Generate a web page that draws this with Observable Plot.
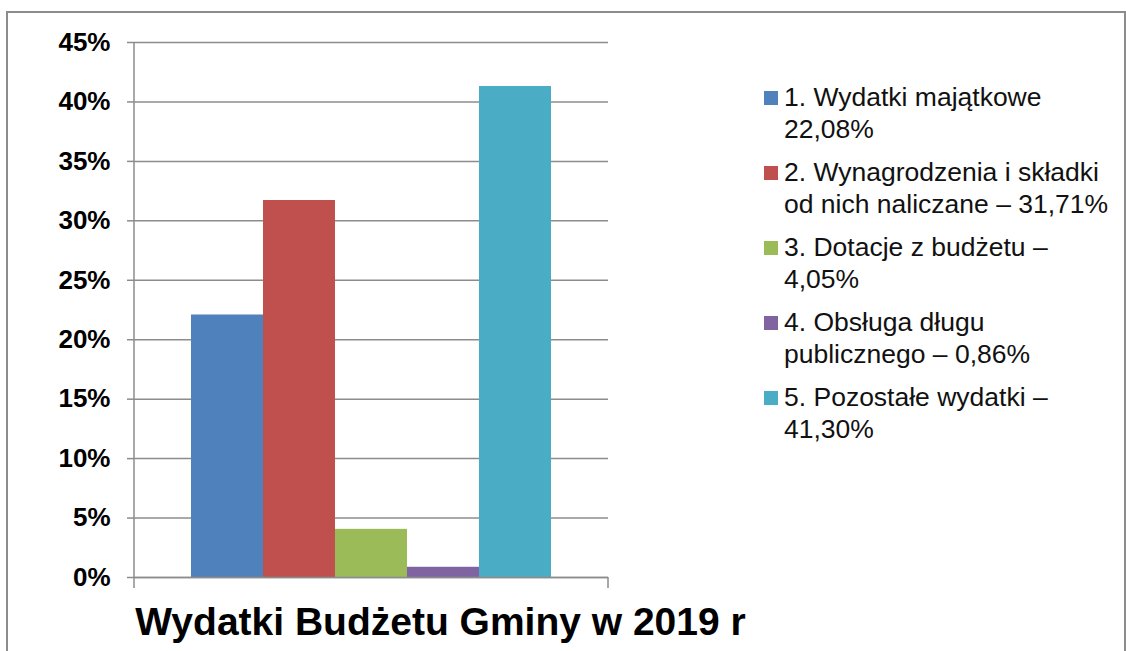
<!DOCTYPE html>
<html>
<head>
<meta charset="utf-8">
<script src="https://cdn.jsdelivr.net/npm/d3@7"></script>
<script src="https://cdn.jsdelivr.net/npm/@observablehq/plot@0.6"></script>
<style>
  html, body { margin: 0; padding: 0; background: #fff; overflow: hidden; }
  #wrap { position: relative; width: 1126px; height: 651px; font-family: "Liberation Sans", Arial, sans-serif; }
  #border { position: absolute; left: 6px; top: 11px; width: 1116px; height: 700px; border: 2px solid #8c8c8c; }
  #chart { position: absolute; left: 0; top: 0; }
  #legend { position: absolute; left: 764px; top: 82px; font-size: 26.5px; line-height: 31.5px; color: #111; }
  .item { display: flex; align-items: flex-start; margin-bottom: 12px; }
  .sw { width: 14px; height: 14px; margin-top: 9px; margin-right: 6px; flex: none; }
  .lbl { white-space: pre-line; }
  #title { position: absolute; left: 40.5px; width: 800px; top: 602px; text-align: center; white-space: nowrap; font-size: 39px; line-height: 39px; font-weight: bold; color: #000; }
</style>
</head>
<body>
<div id="wrap">
  <div id="border"></div>
  <div id="chart"></div>
  <div id="legend"></div>
  <div id="title"></div>
</div>
<script>
const categories = [
  "1. Wydatki majątkowe",
  "2. Wynagrodzenia i składki od nich naliczane",
  "3. Dotacje z budżetu",
  "4. Obsługa długu publicznego",
  "5. Pozostałe wydatki"
];
const values = [22.08, 31.71, 4.05, 0.86, 41.30];
const legendLabels = [
  "1. Wydatki majątkowe\n22,08%",
  "2. Wynagrodzenia i składki\nod nich naliczane – 31,71%",
  "3. Dotacje z budżetu –\n4,05%",
  "4. Obsługa długu\npublicznego – 0,86%",
  "5. Pozostałe wydatki –\n41,30%"
];
const colors = ["#4F81BD", "#C0504D", "#9BBB59", "#8064A2", "#4BACC6"];
const yTicks = [0, 5, 10, 15, 20, 25, 30, 35, 40, 45];
const titleText = "Wydatki Budżetu Gminy w 2019 r";

const data = categories.map((c, i) => ({cat: c, value: values[i]}));
const gray = "#8c8c8c";

function axisLines(...args) {
  const scales = args[1];
  const dims = args.find(a => a && typeof a === "object" && "marginLeft" in a && "width" in a);
  const y0 = scales.y(0);
  const left = dims.marginLeft, right = dims.width - dims.marginRight;
  const g = d3.create("svg:g").attr("stroke", gray).attr("stroke-width", 1.5);
  g.append("line").attr("x1", left).attr("x2", left).attr("y1", dims.marginTop).attr("y2", y0 + 11);
  g.append("line").attr("x1", right).attr("x2", right).attr("y1", y0).attr("y2", y0 + 11);
  return g.node();
}

const chart = Plot.plot({
  width: 620,
  height: 600,
  marginLeft: 134,
  marginRight: 12,
  marginTop: 42,
  marginBottom: 23,
  style: {fontFamily: "'Liberation Sans', Arial, sans-serif", background: "transparent", overflow: "visible"},
  x: {type: "band", domain: categories, paddingInner: 0, paddingOuter: 0.755, axis: null},
  y: {domain: [0, 45], axis: null},
  color: {domain: categories, range: colors},
  marks: [
    Plot.gridY(yTicks, {stroke: gray, strokeOpacity: 1, strokeWidth: 1.5}),
    Plot.barY(data, {x: "cat", y: "value", fill: "cat"}),
    Plot.ruleY([0], {stroke: gray, strokeWidth: 1.5}),
    Plot.axisY(yTicks, {
      tickSize: 7,
      tickPadding: 17,
      stroke: gray,
      strokeWidth: 1.5,
      tickFormat: d => d + "%",
      fontSize: 26,
      fontWeight: "bold",
      fill: "#000",
      label: null
    }),
    axisLines
  ]
});
document.getElementById("chart").appendChild(chart);

const legend = d3.select("#legend");
categories.forEach((c, i) => {
  const it = legend.append("div").attr("class", "item");
  it.append("div").attr("class", "sw").style("background", colors[i]);
  it.append("div").attr("class", "lbl").text(legendLabels[i]);
});
document.getElementById("title").textContent = titleText;
</script>
</body>
</html>
